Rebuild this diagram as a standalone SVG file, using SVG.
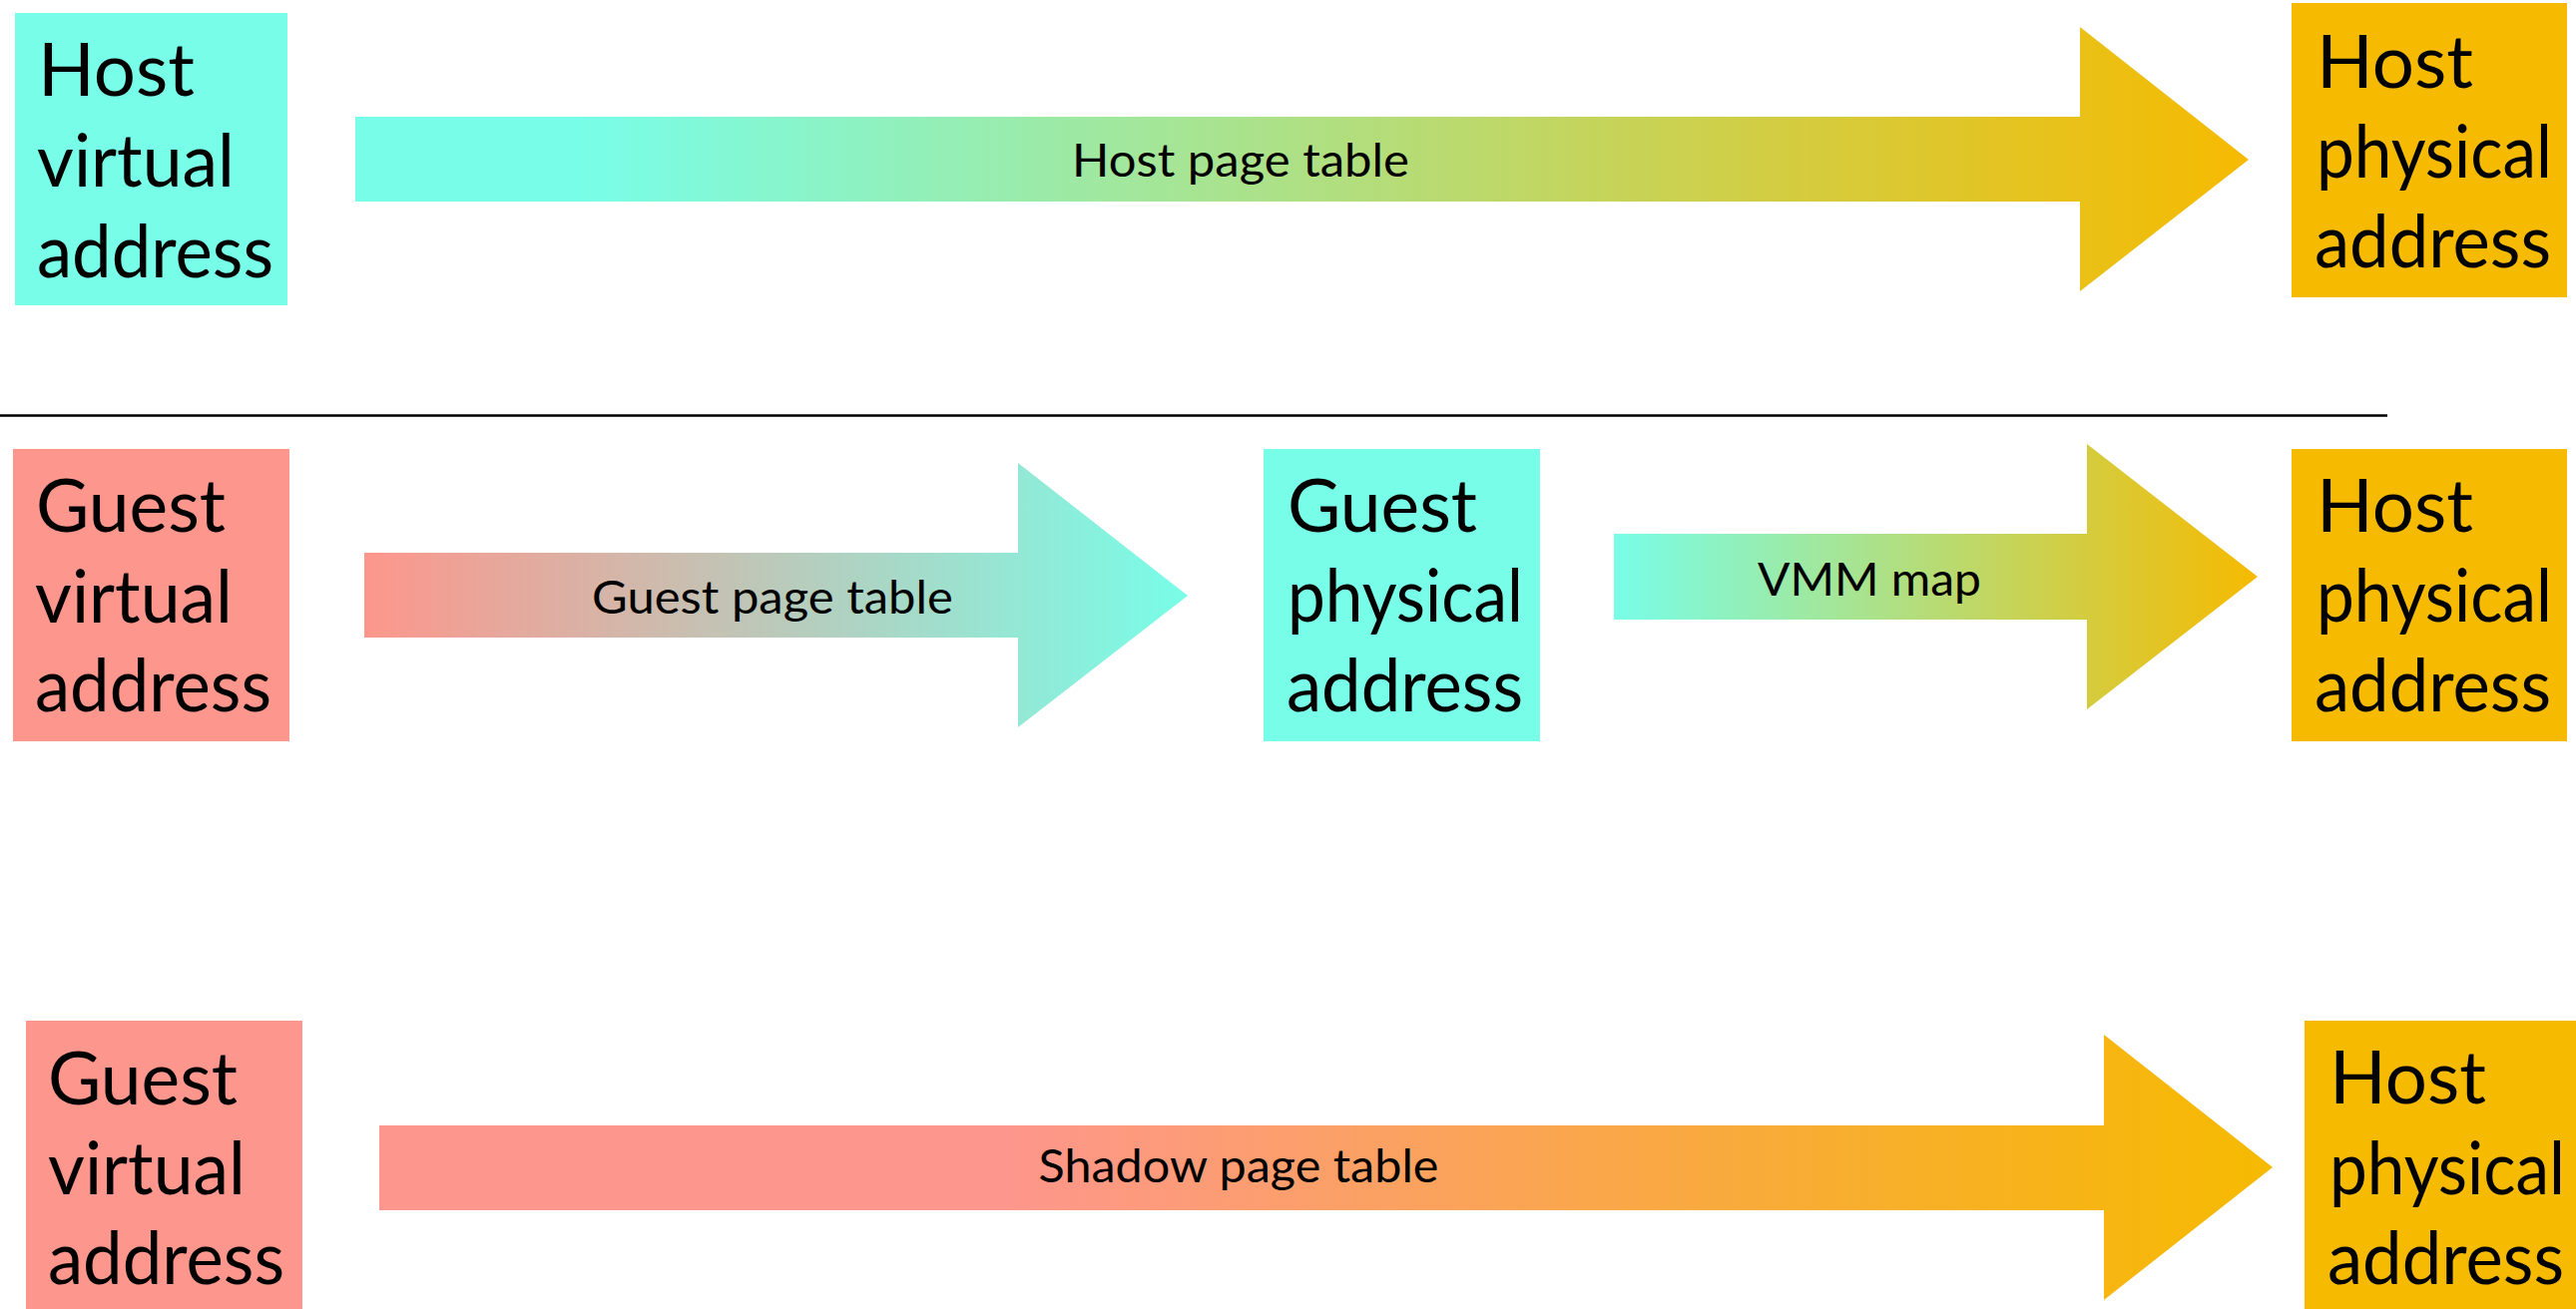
<svg xmlns="http://www.w3.org/2000/svg" width="2581" height="1312" viewBox="0 0 2581 1312">
  <style>
    .box-cyan { fill: #78fde8; }
    .box-salmon { fill: #fd968c; }
    .box-gold { fill: #f6ba00; }
    .node-text { font-family: Lato, "Open Sans", "Liberation Sans", sans-serif; font-size: 74px; fill: #000; }
    .arrow-text { font-family: Lato, "Open Sans", "Liberation Sans", sans-serif; font-size: 47px; fill: #000; text-anchor: middle; }
    .divider { stroke: #000; stroke-width: 2.6; }
  </style>
  <defs>
    <linearGradient id="grad-host" gradientUnits="userSpaceOnUse" x1="356" y1="0" x2="2253" y2="0">
      <stop offset="0" stop-color="#78fde8"/>
      <stop offset="0.12" stop-color="#78fde8"/>
      <stop offset="1" stop-color="#f6ba00"/>
    </linearGradient>
    <linearGradient id="grad-guest" gradientUnits="userSpaceOnUse" x1="365" y1="0" x2="1190" y2="0">
      <stop offset="0" stop-color="#fd968c"/>
      <stop offset="1" stop-color="#78fde8"/>
    </linearGradient>
    <linearGradient id="grad-vmm" gradientUnits="userSpaceOnUse" x1="1617" y1="0" x2="2262" y2="0">
      <stop offset="0" stop-color="#78fde8"/>
      <stop offset="1" stop-color="#f6ba00"/>
    </linearGradient>
    <linearGradient id="grad-shadow" gradientUnits="userSpaceOnUse" x1="380" y1="0" x2="2277" y2="0">
      <stop offset="0" stop-color="#fd968c"/>
      <stop offset="0.33" stop-color="#fd968c"/>
      <stop offset="1" stop-color="#f6ba00"/>
    </linearGradient>
  </defs>

  <rect width="2581" height="1312" fill="#fff"/>

  <!-- row 1: native translation -->
  <g id="host-virtual-1">
    <rect class="box-cyan" x="15" y="13" width="273" height="293"/>
    <text class="node-text" x="38" y="96" textLength="157" lengthAdjust="spacingAndGlyphs">Host</text>
    <text class="node-text" x="37" y="187" textLength="198" lengthAdjust="spacingAndGlyphs">virtual</text>
    <text class="node-text" x="37" y="278" textLength="237" lengthAdjust="spacingAndGlyphs">address</text>
  </g>
  <g id="host-physical-1">
    <rect class="box-gold" x="2296" y="3" width="276" height="295"/>
    <text class="node-text" x="2321" y="88" textLength="157" lengthAdjust="spacingAndGlyphs">Host</text>
    <text class="node-text" x="2321" y="178" textLength="236" lengthAdjust="spacingAndGlyphs">physical</text>
    <text class="node-text" x="2319" y="268" textLength="237" lengthAdjust="spacingAndGlyphs">address</text>
  </g>

  <line class="divider" x1="0" y1="416.5" x2="2392" y2="416.5"/>

  <!-- row 2: two-stage translation -->
  <g id="guest-virtual-2">
    <rect class="box-salmon" x="13" y="450" width="277" height="293"/>
    <text class="node-text" x="36" y="533" textLength="190" lengthAdjust="spacingAndGlyphs">Guest</text>
    <text class="node-text" x="35" y="624" textLength="198" lengthAdjust="spacingAndGlyphs">virtual</text>
    <text class="node-text" x="35" y="713" textLength="237" lengthAdjust="spacingAndGlyphs">address</text>
  </g>
  <g id="guest-physical-2">
    <rect class="box-cyan" x="1266" y="450" width="277" height="293"/>
    <text class="node-text" x="1290" y="533" textLength="190" lengthAdjust="spacingAndGlyphs">Guest</text>
    <text class="node-text" x="1290" y="623" textLength="236" lengthAdjust="spacingAndGlyphs">physical</text>
    <text class="node-text" x="1289" y="713" textLength="237" lengthAdjust="spacingAndGlyphs">address</text>
  </g>
  <g id="host-physical-2">
    <rect class="box-gold" x="2296" y="450" width="276" height="293"/>
    <text class="node-text" x="2321" y="533" textLength="157" lengthAdjust="spacingAndGlyphs">Host</text>
    <text class="node-text" x="2321" y="623" textLength="236" lengthAdjust="spacingAndGlyphs">physical</text>
    <text class="node-text" x="2319" y="713" textLength="237" lengthAdjust="spacingAndGlyphs">address</text>
  </g>

  <!-- row 3: shadow paging -->
  <g id="guest-virtual-3">
    <rect class="box-salmon" x="26" y="1023" width="277" height="289"/>
    <text class="node-text" x="48" y="1107" textLength="190" lengthAdjust="spacingAndGlyphs">Guest</text>
    <text class="node-text" x="48" y="1197" textLength="198" lengthAdjust="spacingAndGlyphs">virtual</text>
    <text class="node-text" x="48" y="1287" textLength="237" lengthAdjust="spacingAndGlyphs">address</text>
  </g>
  <g id="host-physical-3">
    <rect class="box-gold" x="2309" y="1023" width="272" height="289"/>
    <text class="node-text" x="2334" y="1106" textLength="157" lengthAdjust="spacingAndGlyphs">Host</text>
    <text class="node-text" x="2334" y="1197" textLength="236" lengthAdjust="spacingAndGlyphs">physical</text>
    <text class="node-text" x="2332" y="1287" textLength="237" lengthAdjust="spacingAndGlyphs">address</text>
  </g>

  <!-- block arrows with their labels -->
  <g id="connectors">
    <g id="host-page-table">
      <polygon fill="url(#grad-host)" points="356,117 2084,117 2084,27 2253,160 2084,292 2084,202 356,202"/>
      <text class="arrow-text" x="1243" y="177" textLength="338" lengthAdjust="spacingAndGlyphs">Host page table</text>
    </g>
    <g id="guest-page-table">
      <polygon fill="url(#grad-guest)" points="365,554 1020,554 1020,464 1190,597 1020,729 1020,639 365,639"/>
      <text class="arrow-text" x="774" y="615" textLength="362" lengthAdjust="spacingAndGlyphs">Guest page table</text>
    </g>
    <g id="vmm-map">
      <polygon fill="url(#grad-vmm)" points="1617,535 2091,535 2091,445 2262,578 2091,711 2091,621 1617,621"/>
      <text class="arrow-text" x="1873" y="597" textLength="224" lengthAdjust="spacingAndGlyphs">VMM map</text>
    </g>
    <g id="shadow-page-table">
      <polygon fill="url(#grad-shadow)" points="380,1128 2108,1128 2108,1037 2277,1170 2108,1303 2108,1213 380,1213"/>
      <text class="arrow-text" x="1241" y="1185" textLength="401" lengthAdjust="spacingAndGlyphs">Shadow page table</text>
    </g>
  </g>
</svg>
